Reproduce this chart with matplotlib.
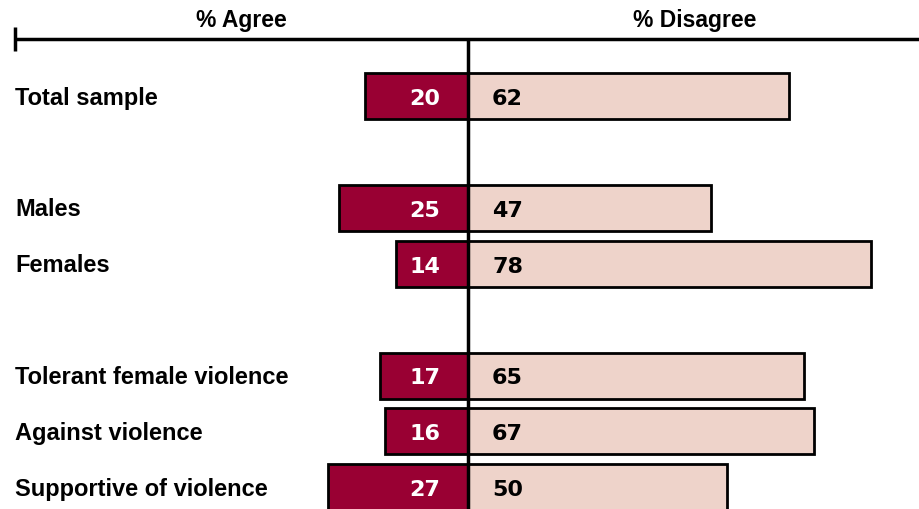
import matplotlib
matplotlib.use("Agg")
import matplotlib.pyplot as plt

categories = ["Total sample", "Males", "Females", "Tolerant female violence",
              "Against violence", "Supportive of violence"]
agree = [20, 25, 14, 17, 16, 27]
disagree = [62, 47, 78, 65, 67, 50]
header_left = "% Agree"
header_right = "% Disagree"

row_pos = [0, 2, 3, 5, 6, 7]

AGREE_C = "#990033"
DIS_C = "#EED3CA"
FONT = ["Liberation Sans", "DejaVu Sans"]
NUMFONT = ["DejaVu Sans"]

W, H = 919, 510
fig = plt.figure(figsize=(W / 100, H / 100), dpi=100)
ax = fig.add_axes([0, 0, 1, 1])
ax.axis("off")

ppu = 5.17          # pixels per percent unit
cx = 468            # center pixel
ax.set_xlim(-cx / ppu, (W - cx) / ppu)
unit = 55.9
y0 = 97
ax.set_ylim((H - y0) / unit, -y0 / unit)

bh = 46 / unit
ax.barh(row_pos, [-a for a in agree], height=bh, color=AGREE_C,
        edgecolor="black", linewidth=2, zorder=2)
ax.barh(row_pos, disagree, height=bh, color=DIS_C,
        edgecolor="black", linewidth=2, zorder=2)

for p, c, a, d in zip(row_pos, categories, agree, disagree):
    ax.annotate(c, (-cx / ppu, p), xytext=(15, -1), textcoords="offset pixels",
                ha="left", va="center", fontsize=17, fontweight="bold",
                family=FONT, color="black")
    ax.annotate(str(a), (0, p), xytext=(-28, -2), textcoords="offset pixels",
                ha="right", va="center", fontsize=16, fontweight="bold",
                family=NUMFONT, color="white", zorder=4)
    ax.annotate(str(d), (0, p), xytext=(24, -2), textcoords="offset pixels",
                ha="left", va="center", fontsize=16, fontweight="bold",
                family=NUMFONT, color="black", zorder=4)

# top line and tick
ytop = (40 - y0) / unit
ax.plot([15 / ppu - cx / ppu, (W - cx) / ppu], [ytop, ytop], color="black",
        lw=2.5, solid_capstyle="butt", zorder=3)
ax.plot([15 / ppu - cx / ppu] * 2, [(28 - y0) / unit, (52 - y0) / unit],
        color="black", lw=2.5, solid_capstyle="butt", zorder=3)
# center line
ax.plot([0, 0], [ytop, (H - y0) / unit + 0.1], color="black", lw=2.5,
        solid_capstyle="butt", zorder=3)

yh = (20 - y0) / unit
ax.text((241 - cx) / ppu, yh, header_left, ha="center", va="center",
        fontsize=16.5, fontweight="bold", family=FONT)
ax.text((695 - cx) / ppu, yh, header_right, ha="center", va="center",
        fontsize=16.5, fontweight="bold", family=FONT)

fig.savefig("out.png", dpi=100, facecolor="white")
